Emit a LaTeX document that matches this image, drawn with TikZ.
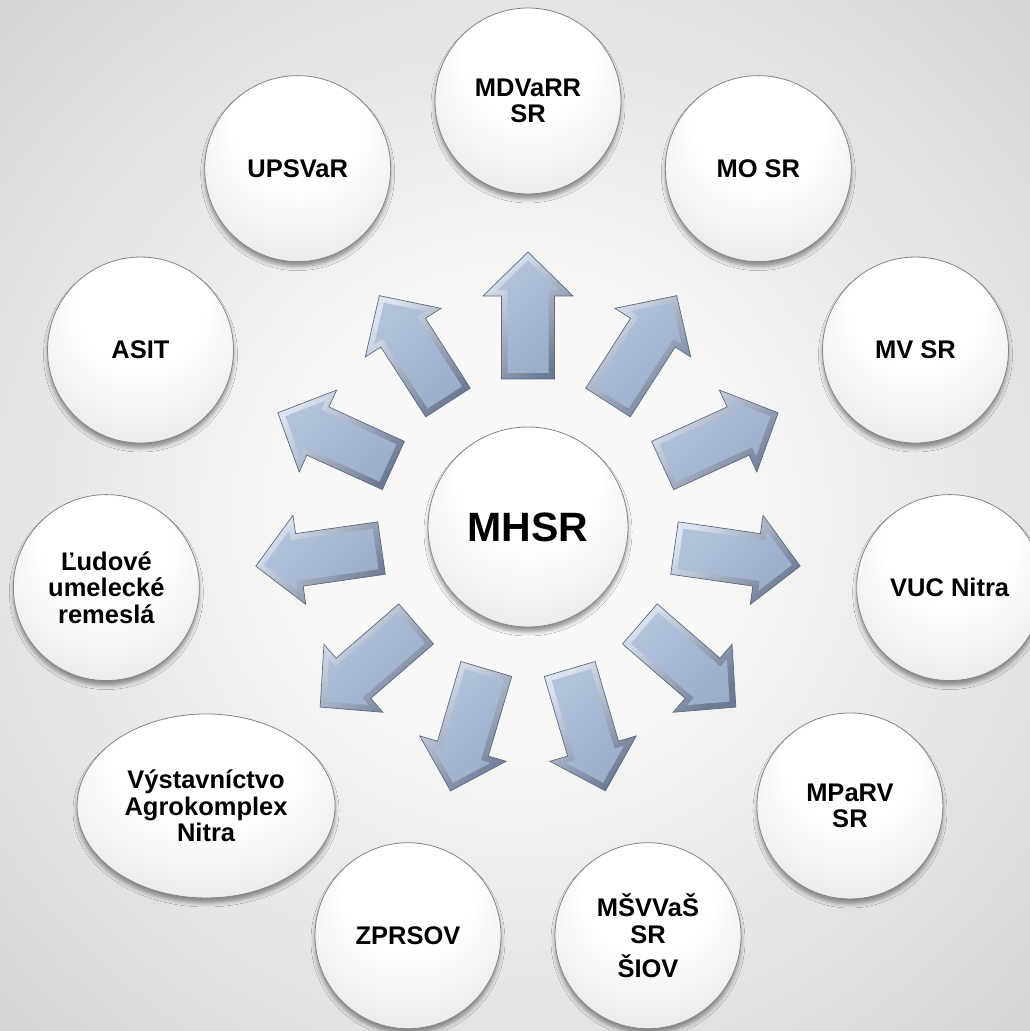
\documentclass[tikz,border=0pt]{standalone}
\usepackage{fontspec}
\setmainfont{Liberation Sans}
\usetikzlibrary{calc,shapes.geometric,shadows.blur}

\definecolor{bgin}{HTML}{F8F8F8}
\definecolor{bgout}{HTML}{ADADAD}
\definecolor{btnmid}{HTML}{E4E4E4}
\definecolor{btnlow}{HTML}{D6D6D6}
\definecolor{btnrim}{HTML}{C0C0C0}
\definecolor{btnedge}{HTML}{959595}
\definecolor{btnline}{HTML}{858585}
\definecolor{arrfacelight}{HTML}{B2C2DB}
\definecolor{arrfacedark}{HTML}{9DAECB}
\definecolor{arrlight}{HTML}{DCE4F1}
\definecolor{arrdark}{HTML}{6C7A93}
\definecolor{arrline}{HTML}{5E6A7D}

\pgfdeclareradialshading{bgshade}{\pgfpoint{0bp}{0bp}}{color(0bp)=(bgin); color(10bp)=(bgin); color(64bp)=(bgout)}
\pgfdeclareradialshading{btnshade}{\pgfpoint{0bp}{20bp}}{color(0bp)=(white); color(18bp)=(white); color(38bp)=(btnmid); color(46bp)=(btnlow); color(48.6bp)=(btnrim); color(50bp)=(btnedge)}

\tikzset{
  btn/.style={circle, minimum size=186pt, inner sep=0pt, shade, shading=btnshade,
    draw=btnline, line width=0.8pt,
    blur shadow={shadow xshift=0pt, shadow yshift=-5pt, shadow blur radius=4pt, shadow opacity=40},
    font=\bfseries\fontsize{25.5}{26.5}\selectfont, align=center, text=black},
  btnell/.style={btn, ellipse, minimum width=258pt, minimum height=184pt},
  btncenter/.style={btn, minimum size=200pt, font=\bfseries\fontsize{41}{44}\selectfont},
  arrouter/.style={draw=arrline, line width=0.7pt, top color=arrlight, bottom color=arrdark, shading angle=45},
  arrinner/.style={top color=arrfacelight, bottom color=arrfacedark, shading angle=45}
}

\begin{document}
\begin{tikzpicture}[x=1pt,y=1pt]
\useasboundingbox (0,0) rectangle (1030,1031);
\shade[shading=bgshade] (0,0) rectangle (1030,1031);

\node[btncenter] (C) at (528,504) {MHSR};

% block arrows pointing outward from the centre node
\foreach \a in {90,57.2727,24.5455,-8.1818,-40.9091,-73.6364,-106.3636,-139.0909,-171.8182,155.4545,122.7273}{
  \path[arrouter]
    ($(C.center)+(\a:148pt)+(\a-90:26.5pt)$) --
    ($(C.center)+(\a:231pt)+(\a-90:26.5pt)$) --
    ($(C.center)+(\a:231pt)+(\a-90:45pt)$) --
    ($(C.center)+(\a:275pt)$) --
    ($(C.center)+(\a:231pt)+(\a+90:45pt)$) --
    ($(C.center)+(\a:231pt)+(\a+90:26.5pt)$) --
    ($(C.center)+(\a:148pt)+(\a+90:26.5pt)$) -- cycle;
  \path[arrinner]
    ($(C.center)+(\a:154pt)+(\a-90:20.5pt)$) --
    ($(C.center)+(\a:237pt)+(\a-90:20.5pt)$) --
    ($(C.center)+(\a:237pt)+(\a-90:30.3pt)$) --
    ($(C.center)+(\a:266.6pt)$) --
    ($(C.center)+(\a:237pt)+(\a+90:30.3pt)$) --
    ($(C.center)+(\a:237pt)+(\a+90:20.5pt)$) --
    ($(C.center)+(\a:154pt)+(\a+90:20.5pt)$) -- cycle;
}

\node[btn] (n0) at ($(C.center)+(90:426pt)$) {MDVaRR\\SR};
\node[btn] (n1) at ($(C.center)+(57.2727:426pt)$) {MO SR};
\node[btn] (n2) at ($(C.center)+(24.5455:426pt)$) {MV SR};
\node[btn] (n3) at ($(C.center)+(-8.1818:426pt)$) {VUC Nitra};
\node[btn] (n4) at ($(C.center)+(-40.9091:426pt)$) {MPaRV\\SR};
\node[btn] (n5) at ($(C.center)+(-73.6364:426pt)$) {MŠVVaŠ\\SR\\[8pt]ŠIOV};
\node[btn] (n6) at ($(C.center)+(-106.3636:426pt)$) {ZPRSOV};
\node[btnell] (n7) at ($(C.center)+(-139.0909:426pt)$) {Výstavníctvo\\Agrokomplex\\Nitra};
\node[btn] (n8) at ($(C.center)+(-171.8182:426pt)$) {Ľudové\\umelecké\\remeslá};
\node[btn] (n9) at ($(C.center)+(155.4545:426pt)$) {ASIT};
\node[btn] (n10) at ($(C.center)+(122.7273:426pt)$) {UPSVaR};
\end{tikzpicture}
\end{document}
